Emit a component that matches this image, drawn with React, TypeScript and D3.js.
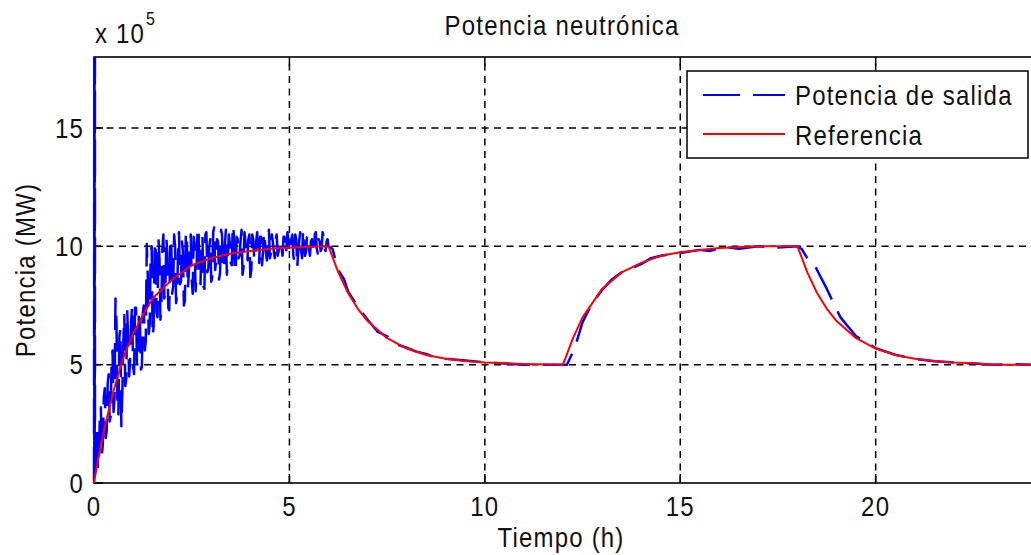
import React from "react";
import * as d3 from "d3";

const width = 1031;
const height = 555;
const margin = { top: 57, right: -1, bottom: 72, left: 94 };

// tick labels
const xTicks = [0, 5, 10, 15, 20];
const yTicks = [0, 5, 10, 15];

// reference power (x 10^5 MW) at given hours
const refT = [0, 0.1, 0.25, 0.5, 0.75, 1, 1.25, 1.5, 2, 2.5, 3, 3.5, 4, 4.5, 5, 6,
  6.25, 6.5, 6.75, 7, 7.5, 8, 8.5, 9, 9.5, 10, 10.5, 11, 12,
  12.25, 12.5, 12.75, 13, 13.5, 14, 14.5, 15, 15.5, 16, 17, 18,
  18.25, 18.5, 18.75, 19, 19.5, 20, 20.5, 21, 21.5, 22, 22.5, 23, 24];
const refP = [0, 0.95, 2.2, 3.9, 5.3, 6.3, 7.1, 7.8, 8.6, 9.2, 9.5, 9.7, 9.8, 9.9, 9.95, 10,
  8.9, 8.03, 7.36, 6.84, 6.12, 5.68, 5.41, 5.25, 5.15, 5.09, 5.06, 5.03, 5,
  6.1, 7.0, 7.6, 8.2, 8.9, 9.3, 9.6, 9.75, 9.85, 9.93, 10, 10,
  8.9, 8.03, 7.36, 6.84, 6.12, 5.68, 5.41, 5.25, 5.15, 5.09, 5.06, 5.0, 5];

// measured output: start-up spike
const spikeT = [0, 0.01, 0.018, 0.024];
const spikeP = [0, 25, 0.3, 25];

// measured output: noisy part, samples every 0.025 h from 0.025 h to 6 h
// (noiseA on the odd samples 0.025, 0.075, ... and noiseB on 0.05, 0.1, ...)
const noiseStep = 0.025;
const noiseA = [
  0.3, 2.4, 0.9, 3.2, 1.6, 4.0, 2.2, 4.6, 2.8, 5.6,
  3.6, 6.8, 2.9, 6.5, 3.8, 7.1, 4.4, 6.0, 5.2, 7.5,
  4.6, 7.4, 5.3, 6.9, 4.9, 7.5, 6.0, 8.8, 6.7, 10.0,
  6.6, 10.2, 7.0, 9.5, 7.6, 10.5, 8.1, 9.7, 7.3, 10.3,
  8.3, 10.0, 7.9, 10.6, 8.5, 9.8, 7.7, 10.3, 8.8, 10.5,
  8.0, 10.1, 9.0, 10.7, 8.4, 10.4, 8.2, 10.6, 9.1, 10.3,
  8.7, 10.8, 9.4, 10.2, 8.9, 10.5, 9.0, 10.7, 9.5, 10.1,
  9.2, 10.6, 8.9, 10.3, 9.6, 10.7, 9.1, 10.2, 9.4, 10.5,
  9.0, 10.3, 9.6, 10.6, 9.3, 10.4, 9.8, 10.2, 9.4, 10.7,
  9.7, 10.2, 9.5, 10.5, 9.8, 10.3, 9.6, 10.4, 9.9, 10.2,
  9.7, 10.5, 9.4, 10.3, 9.8, 10.6, 9.5, 10.2, 9.8, 10.5,
  9.6, 10.3, 9.8, 10.6, 9.7, 10.2, 9.9, 10.4, 9.8, 10.3,
];
const noiseB = [
  1.8, 0.6, 2.9, 1.2, 3.6, 1.9, 4.2, 2.6, 5.1, 3.0,
  7.8, 3.4, 6.2, 2.4, 5.9, 4.1, 7.3, 4.5, 6.8, 4.9,
  7.4, 5.0, 7.3, 4.8, 7.2, 5.6, 10.1, 6.3, 9.6, 6.2,
  9.8, 7.2, 10.3, 6.9, 9.9, 7.8, 10.4, 7.4, 10.0, 8.0,
  10.5, 7.6, 9.7, 8.4, 10.2, 7.5, 10.6, 8.2, 9.9, 8.6,
  10.4, 8.1, 10.8, 8.7, 10.2, 8.3, 10.5, 8.9, 10.0, 8.5,
  10.6, 9.0, 10.3, 8.6, 10.7, 9.2, 10.1, 8.8, 10.5, 9.3,
  10.9, 9.1, 10.4, 9.5, 10.2, 8.8, 10.6, 9.4, 10.3, 8.7,
  10.5, 9.4, 10.2, 9.6, 10.4, 9.2, 10.6, 9.7, 10.1, 9.5,
  10.5, 9.8, 10.3, 9.6, 10.2, 9.9, 10.4, 9.7, 10.6, 9.8,
  10.3, 9.6, 10.5, 9.1, 10.2, 9.8, 10.7, 9.6, 10.4, 9.9,
  10.2, 9.7, 10.5, 9.9, 10.3, 9.8, 10.6, 9.9, 10.2, 10.0,
];

// measured output after 6 h
const tailT = [6.1, 6.25, 6.4, 6.5, 6.75, 7, 7.25, 7.5, 7.75, 8, 8.25, 8.5, 8.75, 9, 9.5, 10, 10.5, 11, 12,
  12.1, 12.3, 12.5, 12.75, 13, 13.25, 13.5, 14, 14.25, 14.5, 15, 15.5, 15.75, 16, 16.25, 16.5, 17, 17.5, 18,
  18.1, 18.25, 18.4, 18.5, 18.75, 18.95, 19.1, 19.25, 19.5, 20, 20.5, 21, 21.5, 22, 22.5, 23, 23.5, 24];
const tailP = [9.9, 9.0, 8.6, 8.1, 7.45, 6.9, 6.4, 6.2, 5.85, 5.72, 5.55, 5.45, 5.3, 5.25, 5.18, 5.1, 5.05, 5.0, 5.0,
  5.0, 5.7, 6.8, 7.6, 8.15, 8.6, 8.9, 9.25, 9.5, 9.6, 9.72, 9.85, 9.8, 9.92, 9.95, 9.9, 10, 9.95, 10,
  9.9, 9.5, 9.35, 9.0, 8.2, 7.5, 7.0, 6.7, 6.2, 5.7, 5.42, 5.24, 5.14, 5.09, 5.05, 5.0, 5.02, 5.0];

const FONT = "'Liberation Sans', Arial, Helvetica, sans-serif";

const Label = ({ x, y, anchor = "start", size = 24, rotate = 0, children }) => (
  <text
    transform={`translate(${x},${y}) rotate(${rotate}) scale(1,1.15)`}
    textAnchor={anchor}
    fontSize={size}
    fontFamily={FONT}
    letterSpacing={1.2}
    fill="#111"
  >
    {children}
  </text>
);

const App = () => {
  const x = d3.scaleLinear().domain([0, 24]).range([margin.left, width - margin.right]);
  const y = d3.scaleLinear().domain([0, 18]).range([height - margin.bottom, margin.top]);
  const [x0, x1] = x.range();
  const [y0, y1] = y.range();

  const line = d3.line().x((d) => x(d[0])).y((d) => y(d[1]));

  const noise = noiseA.flatMap((a, i) => [
    [noiseStep * (2 * i + 1), a],
    [noiseStep * (2 * i + 2), noiseB[i]],
  ]);
  const blue = [
    ...spikeT.map((t, i) => [t, spikeP[i]]),
    ...noise,
    ...tailT.map((t, i) => [t, tailP[i]]),
  ];
  const red = refT.map((t, i) => [t, refP[i]]);

  const gridDash = "7,5.5";
  const tickLen = 9;

  return (
    <svg width={width} height={height} style={{ position: "absolute", left: 0, top: 0, background: "#fff" }}>
      <defs>
        <clipPath id="plot">
          <rect x={x0 - 2} y={y1} width={x1 - x0 + 2} height={y0 - y1} />
        </clipPath>
      </defs>

      {/* grid */}
      {xTicks.slice(1).map((t) => (
        <line key={"gx" + t} x1={x(t)} x2={x(t)} y1={y0} y2={y1} stroke="#000" strokeWidth={1.5} strokeDasharray={gridDash} />
      ))}
      {yTicks.slice(1).map((t) => (
        <line key={"gy" + t} x1={x0} x2={x1} y1={y(t)} y2={y(t)} stroke="#000" strokeWidth={1.5} strokeDasharray={gridDash} />
      ))}

      {/* axes box and ticks */}
      <rect x={x0} y={y1} width={x1 - x0} height={y0 - y1} fill="none" stroke="#000" strokeWidth={1.6} />
      {xTicks.map((t) => (
        <g key={"tx" + t}>
          <line x1={x(t)} x2={x(t)} y1={y0} y2={y0 - tickLen} stroke="#000" strokeWidth={1.5} />
          <line x1={x(t)} x2={x(t)} y1={y1} y2={y1 + tickLen} stroke="#000" strokeWidth={1.5} />
          <Label x={x(t)} y={516} anchor="middle">{t}</Label>
        </g>
      ))}
      {yTicks.map((t) => (
        <g key={"ty" + t}>
          <line x1={x0} x2={x0 + tickLen} y1={y(t)} y2={y(t)} stroke="#000" strokeWidth={1.5} />
          <Label x={84} y={y(t) + 9.5} anchor="end">{t}</Label>
        </g>
      ))}

      <g clipPath="url(#plot)">
        <path d={line(blue)} fill="none" stroke="#0000ff" strokeWidth={2.5} strokeDasharray="36,13" strokeLinejoin="round" />
        <path d={line(red)} fill="none" stroke="#ff0000" strokeWidth={2} strokeLinejoin="round" />
      </g>

      {/* exponent */}
      <Label x={95} y={43}>x 10</Label>
      <Label x={146} y={25} size={16}>5</Label>

      <Label x={562} y={35} anchor="middle">Potencia neutrónica</Label>
      <Label x={561} y={547} anchor="middle">Tiempo (h)</Label>
      <Label x={35} y={270} anchor="middle" rotate={-90}>Potencia (MW)</Label>

      {/* legend */}
      <rect x={687} y={71} width={341} height={87} fill="#fff" stroke="#000" strokeWidth={1.5} />
      <line x1={703} x2={785} y1={95} y2={95} stroke="#0000ff" strokeWidth={2} strokeDasharray="37,13" />
      <Label x={795} y={105}>Potencia de salida</Label>
      <line x1={703} x2={785} y1={134} y2={134} stroke="#ff0000" strokeWidth={2} />
      <Label x={795} y={145}>Referencia</Label>
    </svg>
  );
};

export default App;
